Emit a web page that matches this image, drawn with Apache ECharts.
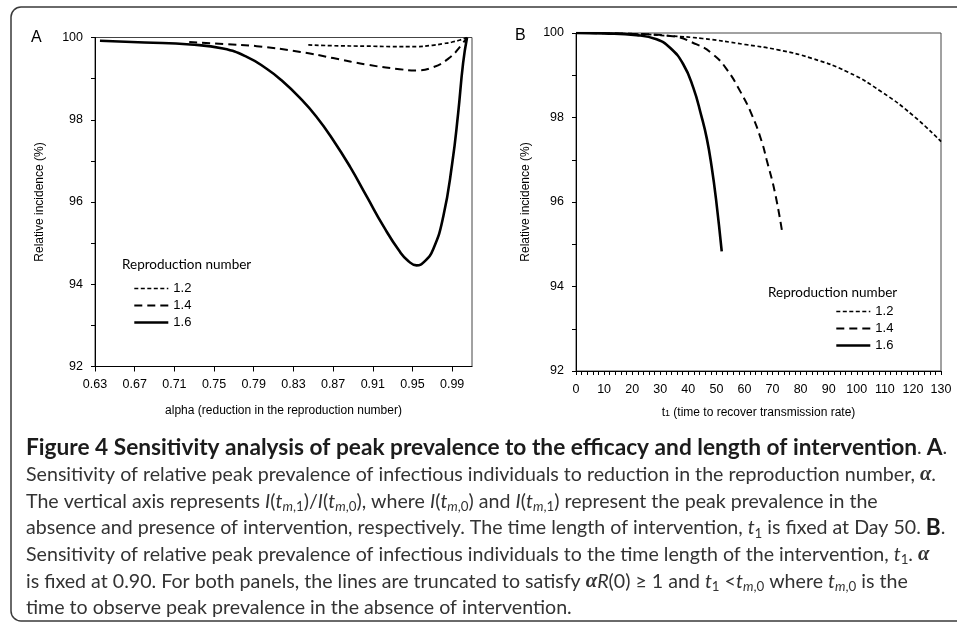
<!DOCTYPE html>
<html><head><meta charset="utf-8">
<script src="https://cdn.jsdelivr.net/npm/echarts@6/dist/echarts.min.js"></script>
<style>html,body{margin:0;padding:0;background:#fff}#c{width:957px;height:625px}</style>
</head><body><div id="c"></div>
<script>
// ---------- data ----------
const legendNames = ['1.2', '1.4', '1.6'];
const alphaTickLabels = ['0.63','0.67','0.71','0.75','0.79','0.83','0.87','0.91','0.95','0.99'];
const dayTickLabels = ['0','10','20','30','40','50','60','70','80','90','100','110','120','130'];
const incidenceTickLabels = ['92','94','96','98','100'];

// Panel A: x = alpha (as placed on the axis), y = relative incidence (%)
const A_R12 = [[0.845,99.82],[0.87,99.80],[0.904,99.79],[0.93,99.78],[0.954,99.78],[0.97,99.81],[0.981,99.85],[0.990,99.89],[0.998,99.94],[1.005,100]];
const A_R14 = [[0.725,99.89],[0.76,99.84],[0.793,99.79],[0.837,99.65],[0.870,99.50],[0.904,99.34],[0.937,99.23],[0.954,99.20],[0.971,99.28],[0.988,99.52],[0.998,99.78],[1.005,100]];
const A_R16 = [[0.635,99.92],[0.68,99.88],[0.726,99.83],[0.759,99.73],[0.783,99.53],[0.803,99.24],[0.818,98.96],[0.837,98.52],[0.853,98.08],[0.870,97.51],[0.887,96.86],[0.904,96.13],[0.921,95.40],[0.937,94.80],[0.946,94.56],[0.954,94.46],[0.962,94.55],[0.971,94.86],[0.981,95.64],[0.990,96.93],[0.996,98.15],[1.001,99.37],[1.005,100]];

// Panel B: x = t1 (days), y = relative incidence (%)
const B_R12 = [[0,100],[20,99.98],[33.5,99.93],[45,99.87],[60,99.73],[72,99.60],[84,99.40],[97,99.07],[109,98.60],[120,98.05],[130,97.43]];
const B_R14 = [[0,100],[20,99.98],[33.5,99.93],[43,99.73],[48.9,99.49],[53.7,99.14],[58.4,98.63],[62.6,98.07],[66.1,97.44],[67.9,97.00],[70.9,96.21],[73.6,95.22]];
const B_R16 = [[0,100],[10,99.99],[21.6,99.95],[28.7,99.85],[33.5,99.65],[38.2,99.26],[41.8,98.70],[44.6,98.05],[46.6,97.50],[48.3,96.84],[49.9,96.05],[51.9,94.83]];

// ---------- styles ----------
const ARIAL = 'Liberation Sans, Arial, sans-serif';
const lineStyles = {
  '1.2': {color:'#000', width:1.7, type:[4,2.5]},
  '1.4': {color:'#000', width:2, type:[8,5]},
  '1.6': {color:'#000', width:2.6, type:'solid'}
};

const chart = echarts.init(document.getElementById('c'));

function yAxis(gridIndex, gap){
  return {
    type:'value', gridIndex, min:92, max:100, interval:2,
    name:'Relative incidence (%)', nameLocation:'middle', nameGap:gap, nameRotate:90,
    nameTextStyle:{fontFamily:ARIAL, fontSize:12, color:'#000'},
    axisLine:{show:true, lineStyle:{color:'#000', width:1}},
    axisTick:{show:true, length:4, lineStyle:{color:'#000'}},
    minorTick:{show:true, splitNumber:2, length:4, lineStyle:{color:'#000'}},
    splitLine:{show:false},
    axisLabel:{fontFamily:ARIAL, fontSize:12.5, color:'#000', margin:12,
      formatter:v=>incidenceTickLabels.includes(String(v))?String(v):''}
  };
}

function series(name, data, idx){
  return {
    name, type:'line', data, xAxisIndex:idx, yAxisIndex:idx,
    symbol:'none', showSymbol:false, smooth:0.5, silent:true,
    lineStyle:lineStyles[name], itemStyle:{color:'#000'}
  };
}

function legend(left, top){
  return {
    left, top, padding:0, orient:'vertical', itemWidth:34, itemHeight:14, itemGap:4,
    selectedMode:false,
    textStyle:{fontFamily:ARIAL, fontSize:13, color:'#000'},
    itemStyle:{opacity:0, borderWidth:0},
    lineStyle:{type:'inherit', color:'inherit', width:'inherit'},
    data: legendNames
  };
}

// ---------- caption ----------
const CAP = 'Lato, "Open Sans", sans-serif';
function measure(text, weight, size){
  const c = document.createElement('canvas').getContext('2d');
  c.font = weight + ' ' + size + 'px ' + CAP;
  return c.measureText(text).width;
}
const FN = 100 * 911 / measure('Sensitivity of relative peak prevalence of infectious individuals to reduction in the reproduction number, \u03b1.', 'normal', 100);
const FB = 100 * 924 / measure('Figure 4 Sensitivity analysis of peak prevalence to the efficacy and length of intervention. A.', 'bold', 100);
const LH = 24;
const capRich = {
  n:{fontFamily:CAP, fontSize:FN, fill:'#333', lineHeight:LH},
  b:{fontFamily:CAP, fontSize:FB, fontWeight:'bold', fill:'#1c1c1c', lineHeight:LH},
  i:{fontFamily:CAP, fontSize:FN, fontStyle:'italic', fill:'#333', lineHeight:LH},
  s:{fontFamily:CAP, fontSize:FN*0.68, fontStyle:'italic', fill:'#333', lineHeight:14, verticalAlign:'bottom'},
  sn:{fontFamily:CAP, fontSize:FN*0.68, fill:'#333', lineHeight:14, verticalAlign:'bottom'},
  a:{fontFamily:'Liberation Serif, serif', fontSize:FN*1.05, fontStyle:'italic', fontWeight:'bold', fill:'#333', lineHeight:LH}
};
const capLines = [
  '{b|Figure 4 Sensitivity analysis of peak prevalence to the efficacy and length of intervention}{n|. }{b|A}{n|.}',
  '{n|Sensitivity of relative peak prevalence of infectious individuals to reduction in the reproduction number, }{a|\u03b1}{n|.}',
  '{n|The vertical axis represents }{i|I}{n|(}{i|t}{s|m}{sn|,1}{n|)/}{i|I}{n|(}{i|t}{s|m}{sn|,0}{n|), where }{i|I}{n|(}{i|t}{s|m}{sn|,0}{n|) and }{i|I}{n|(}{i|t}{s|m}{sn|,1}{n|) represent the peak prevalence in the}',
  '{n|absence and presence of intervention, respectively. The time length of intervention, }{i|t}{sn|1}{n| is fixed at Day 50. }{b|B}{n|.}',
  '{n|Sensitivity of relative peak prevalence of infectious individuals to the time length of the intervention, }{i|t}{sn|1}{n|. }{a|\u03b1}',
  '{n|is fixed at 0.90. For both panels, the lines are truncated to satisfy }{a|\u03b1}{i|R}{n|(0) \u2265 1 and }{i|t}{sn|1}{n| <}{i|t}{s|m}{sn|,0}{n| where }{i|t}{s|m}{sn|,0}{n| is the}',
  '{n|time to observe peak prevalence in the absence of intervention.}'
];
const capY0 = 448, capDY = 26.67;

const graphics = [
  {type:'rect', z:-1, silent:true, shape:{x:11, y:7, width:960, height:614, r:10}, style:{fill:'none', stroke:'#3a3a3a', lineWidth:1.5}},
  {type:'text', left:31, top:30, style:{text:'A', font:'16px ' + ARIAL, fill:'#000'}},
  {type:'text', left:515, top:28, style:{text:'B', font:'16px ' + ARIAL, fill:'#000'}},
  {type:'text', left:122, top:258, style:{text:'Reproduction number', font:'13.5px Lato, sans-serif', fill:'#000'}},
  {type:'text', left:768, top:286, style:{text:'Reproduction number', font:'13.5px Lato, sans-serif', fill:'#000'}}
];
capLines.forEach((t,k)=>{
  graphics.push({type:'text', x:26, y:capY0 + k*capDY, silent:true,
    style:{text:t, rich:capRich, verticalAlign:'middle', align:'left', fill:'#333'}});
});

chart.setOption({
  animation:false,
  backgroundColor:'#fff',
  grid:[
    {left:95, top:37.5, width:377, height:329, show:true, borderColor:'#444', borderWidth:1, backgroundColor:'transparent'},
    {left:576, top:33, width:365, height:338, show:true, borderColor:'#444', borderWidth:1, backgroundColor:'transparent'}
  ],
  xAxis:[
    {type:'value', gridIndex:0, min:0.63, max:1.01, interval:0.04,
     name:'alpha (reduction in the reproduction number)', nameLocation:'middle', nameGap:38,
     nameTextStyle:{fontFamily:ARIAL, fontSize:12, color:'#000'},
     axisLine:{show:true, onZero:false, lineStyle:{color:'#000'}},
     axisTick:{show:true, length:5, lineStyle:{color:'#000'}},
     splitLine:{show:false},
     axisLabel:{fontFamily:ARIAL, fontSize:12.5, color:'#000', margin:12, showMaxLabel:false,
       formatter:v=>{const s=v.toFixed(2); return alphaTickLabels.includes(s)?s:'';}}},
    {type:'value', gridIndex:1, min:0, max:130, interval:10,
     name:'{t|t}{s|1}{n| (time to recover transmission rate)}', nameLocation:'middle', nameGap:36,
     nameTextStyle:{fontFamily:ARIAL, fontSize:12, color:'#000',
       rich:{t:{fontFamily:ARIAL, fontSize:12, color:'#000'}, s:{fontFamily:ARIAL, fontSize:9, color:'#000', padding:[2,0,0,0]}, n:{fontFamily:ARIAL, fontSize:12, color:'#000'}}},
     axisLine:{show:true, onZero:false, lineStyle:{color:'#000'}},
     axisTick:{show:true, length:4, lineStyle:{color:'#000'}},
     minorTick:{show:true, splitNumber:5, length:4, lineStyle:{color:'#000'}},
     splitLine:{show:false},
     axisLabel:{fontFamily:ARIAL, fontSize:12.5, color:'#000', margin:12,
       formatter:v=>{const s=String(v); return dayTickLabels.includes(s)?s:'';}}}
  ],
  yAxis:[yAxis(0, 49), yAxis(1, 44)],
  legend:[legend(133, 282), legend(835, 305)],
  series:[
    series('1.2', A_R12, 0), series('1.4', A_R14, 0), series('1.6', A_R16, 0),
    series('1.2', B_R12, 1), series('1.4', B_R14, 1), series('1.6', B_R16, 1)
  ],
  graphic:graphics
});
</script>
</body></html>
